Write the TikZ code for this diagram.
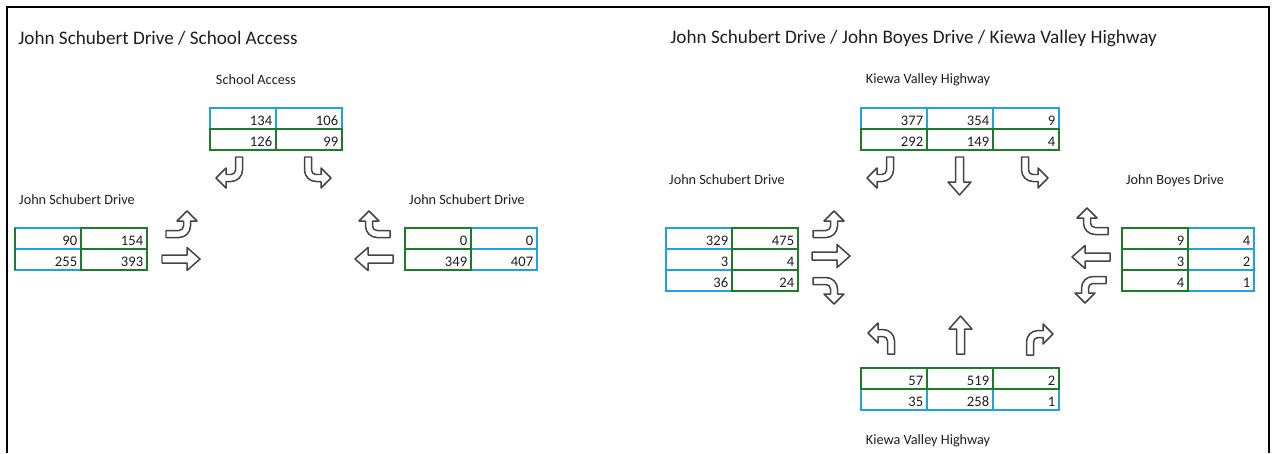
\documentclass[tikz,border=0pt]{standalone}
\usepackage{fontspec}
\setmainfont{Carlito}
\definecolor{ink}{HTML}{1E1E1E}
\definecolor{tblue}{HTML}{1FA2DD}
\definecolor{tgreen}{HTML}{217A2C}
\definecolor{arrowline}{HTML}{444444}

\tikzset{
  stem E/.style={y={(0.02cm,0)}}, stem W/.style={y={(-0.02cm,0)}},
  stem N/.style={y={(0,0.02cm)}}, stem S/.style={y={(0,-0.02cm)}},
  turn E/.style={x={(0.02cm,0)}}, turn W/.style={x={(-0.02cm,0)}},
  turn N/.style={x={(0,0.02cm)}}, turn S/.style={x={(0,-0.02cm)}},
  blockarrow/.style={draw=arrowline, fill=white, line width=0.85pt, line join=round},
  cellbox/.style={line width=1.2pt},
  cellnum/.style={font=\fontsize{8.3}{9}\selectfont, text=ink, anchor=base east, inner sep=0pt},
  roadname/.style={font=\fontsize{8.1}{9}\selectfont, text=ink},
  heading/.style={font=\fontsize{10.9}{13}\selectfont, text=ink, anchor=west, inner sep=0pt}
}

% turning movement: tail x, tail y, stem direction, turn direction
\newcommand{\turnarrow}[4]{%
  \begin{scope}[shift={(#1,#2)}, stem #3, turn #4]
    \draw[blockarrow] (-3.5,0) -- (-3.5,13) .. controls (-3.5,19.35) and (1.65,24.5) .. (8,24.5)
      -- (13,24.5) -- (13,31) -- (23,21) -- (13,11) -- (13,17.5) -- (8,17.5)
      .. controls (5.51,17.5) and (3.5,15.49) .. (3.5,13) -- (3.5,0) -- cycle;
  \end{scope}}

% through movement: tail x, tail y, direction, side
\newcommand{\thruarrow}[4]{%
  \begin{scope}[shift={(#1,#2)}, stem #3, turn #4]
    \draw[blockarrow] (-4,0) -- (-4,25) -- (-11.5,25) -- (0,38) -- (11.5,25) -- (4,25) -- (4,0) -- cycle;
  \end{scope}}

% table of counts: name, left, top, cells col/row/colour/value
\newcommand{\counttable}[4]{%
  \foreach \cx/\ry/\clr/\val in {#4}{
    \draw[cellbox, draw=\clr] (#2+\cx*66,#3+\ry*21) rectangle ++(66,21);
    \node[cellnum] (#1-\cx-\ry) at (#2+\cx*66+62.5,#3+\ry*21+17) {\val};}}

\begin{document}
\begin{tikzpicture}[x=0.02cm, y=-0.02cm]
  \useasboundingbox (0,0) rectangle (1273,453);
  \draw[line width=1.2pt] (7,453) -- (7,7) -- (1269,7) -- (1269,453);

  \node[heading] (title-a) at (18,38) {John Schubert Drive / School Access};
  \node[heading] (title-b) at (670,38) {John Schubert Drive / John Boyes Drive / Kiewa Valley Highway};

  % John Schubert Drive / School Access
  \node[roadname] (a-north) at (256,80) {School Access};
  \node[roadname] (a-west) at (77,200) {John Schubert Drive};
  \node[roadname] (a-east) at (467,200) {John Schubert Drive};
  \counttable{a-n}{210}{108}{0/0/tblue/134,1/0/tblue/106,0/1/tgreen/126,1/1/tgreen/99}
  \counttable{a-w}{15}{228}{0/0/tblue/90,0/1/tblue/255,1/0/tgreen/154,1/1/tgreen/393}
  \draw[cellbox, draw=tgreen] (15,228) -- (15,270);
  \counttable{a-e}{405}{228}{1/0/tblue/0,1/1/tblue/407,0/0/tgreen/0,0/1/tgreen/349}
  \turnarrow{239}{157}{S}{W}
  \turnarrow{308}{157}{S}{E}
  \turnarrow{166}{234}{E}{N}
  \thruarrow{162}{259}{E}{N}
  \turnarrow{390}{234}{W}{N}
  \thruarrow{393}{259}{W}{N}

  % John Schubert Drive / John Boyes Drive / Kiewa Valley Highway
  \node[roadname] (b-north) at (928,80) {Kiewa Valley Highway};
  \node[roadname] (b-west) at (727,180) {John Schubert Drive};
  \node[roadname] (b-east) at (1175,181) {John Boyes Drive};
  \node[roadname] (b-south) at (928,441) {Kiewa Valley Highway};
  \counttable{b-n}{861}{108}{0/0/tblue/377,1/0/tblue/354,2/0/tblue/9,0/1/tgreen/292,1/1/tgreen/149,2/1/tgreen/4}
  \counttable{b-w}{666}{228}{0/0/tblue/329,0/1/tblue/3,0/2/tblue/36,1/0/tgreen/475,1/1/tgreen/4,1/2/tgreen/24}
  \counttable{b-e}{1122}{228}{1/0/tblue/4,1/1/tblue/2,1/2/tblue/1,0/0/tgreen/9,0/1/tgreen/3,0/2/tgreen/4}
  \counttable{b-s}{861}{368}{0/1/tblue/35,1/1/tblue/258,2/1/tblue/1,0/0/tgreen/57,1/0/tgreen/519,2/0/tgreen/2}
  \turnarrow{890}{157}{S}{W}
  \thruarrow{959.5}{157}{S}{E}
  \turnarrow{1025}{157}{S}{E}
  \turnarrow{813}{234}{E}{N}
  \thruarrow{812}{256}{E}{N}
  \turnarrow{813}{281}{E}{S}
  \turnarrow{1108}{231}{W}{N}
  \thruarrow{1110}{257}{W}{N}
  \turnarrow{1106}{280}{W}{S}
  \turnarrow{891}{354}{N}{W}
  \thruarrow{960.5}{354}{N}{E}
  \turnarrow{1030}{355}{N}{E}
\end{tikzpicture}
\end{document}
